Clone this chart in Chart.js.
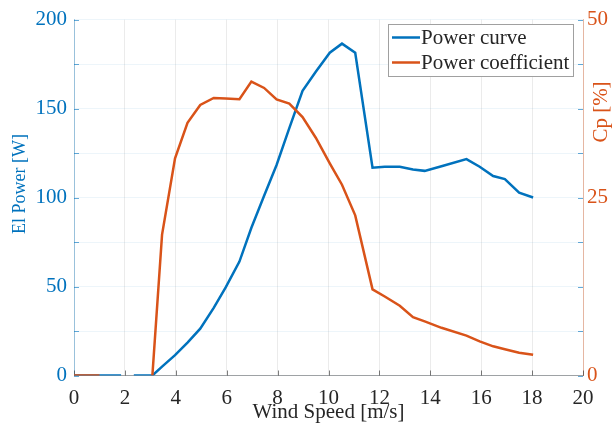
<!DOCTYPE html>
<html>
<head>
<meta charset="utf-8">
<script src="https://cdn.jsdelivr.net/npm/chart.js@4"></script>
<style>
html, body { margin: 0; padding: 0; background: #fff; }
</style>
</head>
<body>
<canvas id="powerChart" width="615" height="426"></canvas>
<script>
// wind speed [m/s]
const windSpeed = [0, 1.0, 1.85, 2.1, 2.35, 3.08, 3.46, 3.97, 4.46, 4.96, 5.49, 5.96, 6.5, 6.97, 7.47,
    7.96, 8.46, 8.98, 9.5, 10.05, 10.53, 11.05, 11.73, 12.21, 12.8, 13.32, 13.78, 14.44, 15.42, 15.94,
    16.47, 16.93, 17.49, 18.04];
// electrical power [W]
const powerCurve = [0, 0, 0, null, 0, 0, 5, 11.4, 18.5, 26.3, 38, 49.5, 64, 83, 101,
    118.3, 139, 160, 170.7, 181.4, 186.5, 181.4, 116.8, 117.3, 117.3, 115.8, 115, 117.6, 121.6, 117.3,
    112.1, 110.4, 102.8, 100];
// power coefficient [%]
const powerCoeff = [0, 0, null, null, null, 0, 19.8, 30.5, 35.5, 38.0, 39.0, 38.9, 38.8, 41.3, 40.4,
    38.8, 38.2, 36.3, 33.4, 29.8, 26.8, 22.5, 12.1, 11.1, 9.8, 8.2, 7.6, 6.7, 5.6, 4.8,
    4.1, 3.7, 3.2, 2.9];
const seriesNames = ['Power curve', 'Power coefficient'];
const leftTitle = 'El Power [W]';
const rightTitle = 'Cp [%]';
const xTitle = 'Wind Speed [m/s]';

const BLUE = '#0072BD';
const ORANGE = '#D95319';
const DARK = '#262626';
const FONT = "'Liberation Serif', 'Times New Roman', serif";

const toPoints = (ys) => windSpeed.map((x, i) => ({ x: x, y: ys[i] }));

function vertLabel(ctx, text, x, y, color, size) {
    ctx.save();
    ctx.translate(x, y);
    ctx.rotate(-Math.PI / 2);
    ctx.fillStyle = color;
    ctx.font = size + 'px ' + FONT;
    ctx.textAlign = 'center';
    ctx.textBaseline = 'middle';
    ctx.fillText(text, 0, 0);
    ctx.restore();
}

// MATLAB-like extras: inner tick marks, axis labels reading upwards, legend box
const extras = {
    id: 'extras',
    beforeDatasetsDraw(chart) {
        const { ctx, chartArea: a, scales } = chart;
        ctx.save();
        ctx.lineWidth = 1;
        ctx.strokeStyle = 'rgba(38,38,38,0.6)';
        scales.x.ticks.forEach(t => {
            const px = Math.round(scales.x.getPixelForValue(t.value)) + 0.5;
            ctx.beginPath();
            ctx.moveTo(px, a.bottom);
            ctx.lineTo(px, a.bottom - 5);
            ctx.stroke();
        });
        ctx.strokeStyle = 'rgba(0,114,189,0.6)';
        scales.y.ticks.forEach(t => {
            const py = Math.round(scales.y.getPixelForValue(t.value)) + 0.5;
            ctx.beginPath();
            ctx.moveTo(a.left, py); ctx.lineTo(a.left + 5, py);
            ctx.moveTo(a.right, py); ctx.lineTo(a.right - 5, py);
            ctx.stroke();
        });
        ctx.restore();
    },
    afterDraw(chart) {
        const { ctx } = chart;
        vertLabel(ctx, leftTitle, 20, 184, BLUE, 18);
        vertLabel(ctx, rightTitle, 601, 112, ORANGE, 21);

        // legend
        ctx.save();
        const bx = 388.5, by = 24.5, bw = 185, bh = 52;
        ctx.fillStyle = '#fff';
        ctx.fillRect(bx, by, bw, bh);
        ctx.strokeStyle = '#a0a0a0';
        ctx.lineWidth = 1;
        ctx.strokeRect(bx, by, bw, bh);
        ctx.font = '21px ' + FONT;
        ctx.textBaseline = 'middle';
        [BLUE, ORANGE].forEach((c, i) => {
            const yy = 37.5 + i * 25;
            ctx.strokeStyle = c;
            ctx.lineWidth = 2.5;
            ctx.beginPath();
            ctx.moveTo(392, yy);
            ctx.lineTo(420, yy);
            ctx.stroke();
            ctx.fillStyle = DARK;
            ctx.fillText(seriesNames[i], 421, yy + 1);
        });
        ctx.restore();
    }
};

new Chart(document.getElementById('powerChart'), {
    type: 'line',
    data: {
        datasets: [
            {
                label: seriesNames[0],
                data: toPoints(powerCurve),
                borderColor: BLUE,
                borderWidth: 2.5,
                pointRadius: 0,
                tension: 0,
                spanGaps: false,
                order: 2,
                yAxisID: 'y'
            },
            {
                label: seriesNames[1],
                data: toPoints(powerCoeff),
                borderColor: ORANGE,
                borderWidth: 2.5,
                pointRadius: 0,
                tension: 0,
                spanGaps: false,
                order: 1,
                yAxisID: 'y1'
            }
        ]
    },
    options: {
        responsive: false,
        animation: false,
        layout: { padding: { top: 17, left: 0, right: 0, bottom: 0 } },
        plugins: {
            legend: { display: false },
            tooltip: { enabled: false }
        },
        scales: {
            x: {
                type: 'linear',
                min: 0,
                max: 20,
                afterFit: (s) => { s.height = 50.5; },
                ticks: { stepSize: 2, color: DARK, padding: 10, font: { family: FONT, size: 21 } },
                grid: { color: 'rgba(0,0,0,0.08)', drawTicks: false },
                border: { color: 'rgba(38,38,38,0.4)' },
                title: { display: true, text: xTitle, color: DARK, padding: { top: 0, bottom: 1 }, font: { family: FONT, size: 21 } }
            },
            y: {
                position: 'left',
                min: 0,
                max: 200,
                afterFit: (s) => { s.width = 74; },
                ticks: {
                    stepSize: 25,
                    color: BLUE,
                    padding: 7,
                    font: { family: FONT, size: 21 },
                    callback: (v) => (v % 50 === 0 ? v : '')
                },
                grid: { color: 'rgba(0,114,189,0.07)', drawTicks: false },
                border: { color: 'rgba(0,114,189,0.35)' }
            },
            y1: {
                position: 'right',
                min: 0,
                max: 50,
                afterFit: (s) => { s.width = 32; },
                ticks: { stepSize: 25, color: ORANGE, padding: 4, font: { family: FONT, size: 21 } },
                grid: { display: false, drawTicks: false },
                border: { color: 'rgba(217,83,25,0.35)' }
            }
        }
    },
    plugins: [extras]
});
</script>
</body>
</html>
